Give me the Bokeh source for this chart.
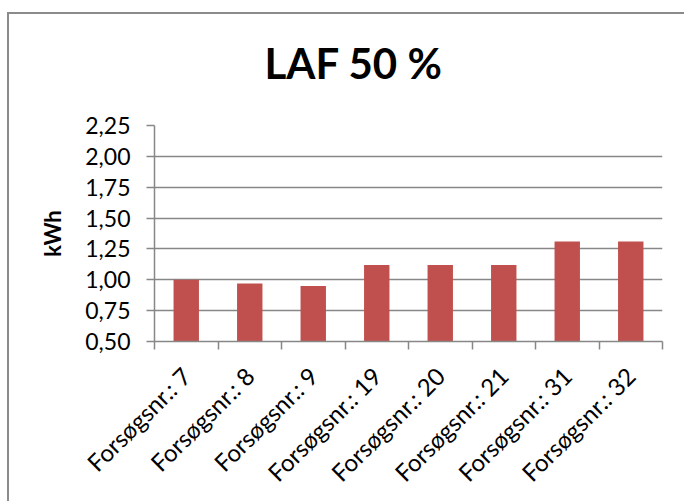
from bokeh.plotting import figure
from bokeh.models import Range1d, FixedTicker, Title
from bokeh.embed import file_html
from bokeh.resources import INLINE
import numpy as np

# ---- data ----
categories = ["Forsøgsnr.: 7", "Forsøgsnr.: 8", "Forsøgsnr.: 9", "Forsøgsnr.: 19",
              "Forsøgsnr.: 20", "Forsøgsnr.: 21", "Forsøgsnr.: 31", "Forsøgsnr.: 32"]
values = [1.00, 0.97, 0.95, 1.12, 1.12, 1.12, 1.31, 1.31]
y_ticks = [0.50, 0.75, 1.00, 1.25, 1.50, 1.75, 2.00, 2.25]
y_tick_labels = ["0,50", "0,75", "1,00", "1,25", "1,50", "1,75", "2,00", "2,25"]
title_text = "LAF 50 %"
y_label = "kWh"

FONT = "Lato"
GREY = "#878787"
BAR = "#C0504D"

n = len(categories)
centers = list(np.arange(n) + 0.5)
bounds = list(np.arange(n + 1).astype(float))

p = figure(x_range=Range1d(0, n), y_range=Range1d(y_ticks[0], y_ticks[-1]),
           frame_width=508, frame_height=216,
           min_border_left=145, min_border_right=22, min_border_top=111, min_border_bottom=160,
           output_backend="svg", toolbar_location=None)
p.styles = {"border-left": "2px solid #8b8b8b", "border-top": "2px solid #8b8b8b",
            "border-right": "0px none transparent", "border-bottom": "0px none transparent",
            "margin-left": "7px", "margin-top": "12px"}

p.vbar(x=centers, top=values, bottom=0, width=0.4, fill_color=BAR, line_color=None)

p.outline_line_color = None
p.background_fill_color = "white"
p.border_fill_color = "white"

# title: a small spacer next to the plot area, then the title above it
spacer = Title(text=" ", text_font_size="1px", standoff=35, text_color="white")
main_title = Title(text=title_text, text_font=FONT, text_font_size="42px",
                   text_font_style="bold", text_color="black", align="left",
                   offset=110, standoff=0)
p.add_layout(spacer, "above")
p.add_layout(main_title, "above")

# x axis
xa = p.xaxis[0]
xa.ticker = FixedTicker(ticks=centers, minor_ticks=bounds)
xa.major_label_overrides = {c: lab for c, lab in zip(centers, categories)}
xa.major_label_orientation = np.pi / 4
xa.major_tick_line_color = None
xa.major_tick_out = 0
xa.major_tick_in = 0
xa.minor_tick_line_color = GREY
xa.minor_tick_line_width = 1.5
xa.minor_tick_out = 8
xa.minor_tick_in = 0
xa.axis_line_color = GREY
xa.axis_line_width = 1.5
xa.major_label_text_font = FONT
xa.major_label_text_font_size = "24px"
xa.major_label_text_color = "black"
xa.major_label_standoff = 22

# y axis
ya = p.yaxis[0]
ya.ticker = FixedTicker(ticks=y_ticks)
ya.major_label_overrides = {t: lab for t, lab in zip(y_ticks, y_tick_labels)}
ya.minor_tick_line_color = None
ya.major_tick_line_color = GREY
ya.major_tick_line_width = 1.5
ya.major_tick_out = 8
ya.major_tick_in = 0
ya.axis_line_color = GREY
ya.axis_line_width = 1.5
ya.major_label_text_font = FONT
ya.major_label_text_font_size = "23px"
ya.major_label_text_color = "black"
ya.major_label_standoff = 16
ya.axis_label = y_label
ya.axis_label_text_font = FONT
ya.axis_label_text_font_style = "bold"
ya.axis_label_text_font_size = "22px"
ya.axis_label_text_color = "black"
ya.axis_label_standoff = 16

p.xgrid.grid_line_color = None
p.ygrid.ticker = FixedTicker(ticks=y_ticks)
p.ygrid.grid_line_color = GREY
p.ygrid.grid_line_width = 1.5

open("out.html", "w").write(file_html(p, INLINE))
